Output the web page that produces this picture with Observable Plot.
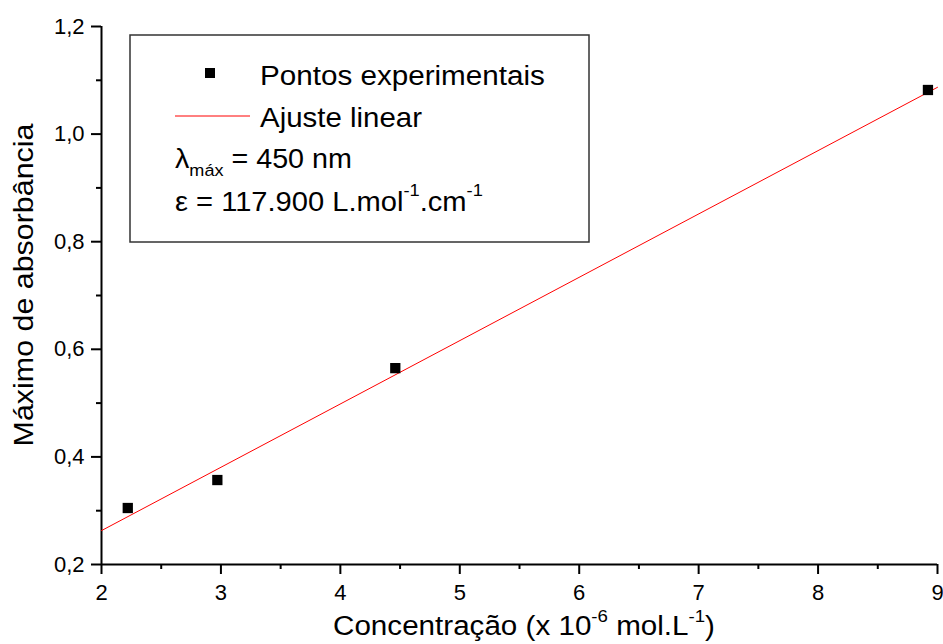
<!DOCTYPE html>
<html><head><meta charset="utf-8">
<script src="https://cdn.jsdelivr.net/npm/d3@7"></script>
<script src="https://cdn.jsdelivr.net/npm/@observablehq/plot@0.6"></script>
<style>
body{margin:0;background:#fff}
#chart svg{font-family:"Liberation Sans",Arial,sans-serif;}
</style>
</head><body><div id="chart"></div>
<script>
// Data
const concentration = [2.22, 2.97, 4.46, 8.92];       // x 10^-6 mol/L
const absorbance    = [0.305, 0.357, 0.565, 1.082];
const fitX = [2, 9];                                    // linear fit endpoints
const fitY = [0.263, 1.087];
const xTicks = [2, 3, 4, 5, 6, 7, 8, 9];
const xTickLabels = ["2", "3", "4", "5", "6", "7", "8", "9"];
const xMinorTicks = [2.5, 3.5, 4.5, 5.5, 6.5, 7.5, 8.5];
const yTicks = [0.2, 0.4, 0.6, 0.8, 1.0, 1.2];
const yTickLabels = ["0,2", "0,4", "0,6", "0,8", "1,0", "1,2"];
const yMinorTicks = [0.3, 0.5, 0.7, 0.9, 1.1];
const legendLabels = ["Pontos experimentais", "Ajuste linear"];
const yLabel = "Máximo de absorbância";

const points = concentration.map((x, i) => ({x, y: absorbance[i]}));
const fit = fitX.map((x, i) => ({x, y: fitY[i]}));
const lookup = (ticks, labels) => d => labels[ticks.findIndex(t => Math.abs(t - d) < 1e-9)];

const ff = '"Liberation Sans", Arial, sans-serif';
const plot = Plot.plot({
  width: 943, height: 644,
  marginTop: 26, marginRight: 6, marginBottom: 80, marginLeft: 101,
  style: {fontFamily: ff, fontSize: "22px", color: "#000", background: "#fff", overflow: "visible"},
  x: {domain: [2, 9]},
  y: {domain: [0.2, 1.2]},
  marks: [
    Plot.axisX({ticks: xMinorTicks, tickSize: 5, tickFormat: () => "", strokeWidth: 2, label: null}),
    Plot.axisX({ticks: xTicks, tickSize: 10, tickPadding: 10, fontSize: 22, strokeWidth: 2, label: null,
      tickFormat: lookup(xTicks, xTickLabels)}),
    Plot.axisY({ticks: yMinorTicks, tickSize: 5, tickFormat: () => "", strokeWidth: 2, label: null}),
    Plot.axisY({ticks: yTicks, tickSize: 10, tickPadding: 7, fontSize: 22, strokeWidth: 2, label: null,
      tickFormat: lookup(yTicks, yTickLabels)}),
    Plot.ruleY([0.2], {strokeWidth: 2}),
    Plot.ruleX([2], {strokeWidth: 2}),
    Plot.line(fit, {x: "x", y: "y", stroke: "#ff0000", strokeWidth: 1}),
    Plot.dot(points, {x: "x", y: "y", symbol: "square", r: 5.8, fill: "#000", stroke: "none"})
  ]
});
document.getElementById("chart").appendChild(plot);

const svg = d3.select(plot);

// horizontally stretch a text node to a target width, after a base transform
function stretch(node, target, base) {
  const w = node.getBBox().width;
  const s = target / w;
  node.setAttribute("transform", `${base} scale(${s},1)`);
}

// Y axis label
const yl = svg.append("text")
  .attr("text-anchor", "middle").attr("dominant-baseline", "central")
  .attr("font-family", ff).attr("font-size", 27).attr("fill", "#000")
  .text(yLabel);
stretch(yl.node(), 324, "translate(24,285) rotate(-90)");

// X axis label with superscripts
const xl = svg.append("text")
  .attr("text-anchor", "middle")
  .attr("font-family", ff).attr("font-size", 27).attr("fill", "#000");
xl.append("tspan").text("Concentração (x 10");
xl.append("tspan").attr("font-size", 17).attr("dy", -13).text("-6");
xl.append("tspan").attr("dy", 13).text(" mol.L");
xl.append("tspan").attr("font-size", 17).attr("dy", -13).text("-1");
xl.append("tspan").attr("dy", 13).text(")");
stretch(xl.node(), 382, "translate(524,635)");

// Legend box
const lg = svg.append("g").attr("font-family", ff).attr("fill", "#000").attr("text-anchor", "start");
lg.append("rect").attr("x", 130).attr("y", 35).attr("width", 459).attr("height", 207)
  .attr("fill", "#fff").attr("stroke", "#333").attr("stroke-width", 1.5);
lg.append("rect").attr("x", 205).attr("y", 68).attr("width", 10).attr("height", 10).attr("fill", "#000");
const t1 = lg.append("text").attr("font-size", 27).text(legendLabels[0]);
stretch(t1.node(), 285, "translate(260,85)");
lg.append("line").attr("x1", 175).attr("x2", 250).attr("y1", 116).attr("y2", 116)
  .attr("stroke", "#ff0000").attr("stroke-width", 1);
const t2 = lg.append("text").attr("font-size", 27).text(legendLabels[1]);
stretch(t2.node(), 162, "translate(260,127)");
const l3 = lg.append("text").attr("font-size", 27);
l3.append("tspan").text("λ");
l3.append("tspan").attr("font-size", 17).attr("dy", 8).text("máx");
l3.append("tspan").attr("dy", -8).text(" = 450 nm");
stretch(l3.node(), 177, "translate(175,168)");
const l4 = lg.append("text").attr("font-size", 27);
l4.append("tspan").text("ε = 117.900 L.mol");
l4.append("tspan").attr("font-size", 17).attr("dy", -15).text("-1");
l4.append("tspan").attr("dy", 15).text(".cm");
l4.append("tspan").attr("font-size", 17).attr("dy", -15).text("-1");
stretch(l4.node(), 308, "translate(175,211)");
</script>
</body></html>
